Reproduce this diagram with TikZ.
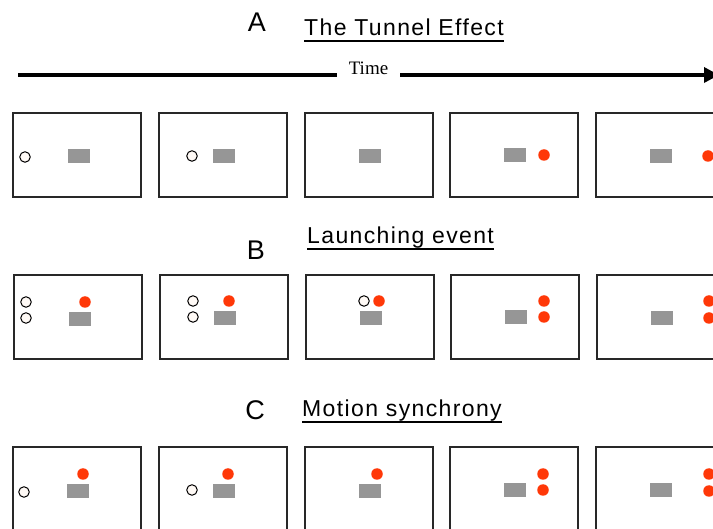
\documentclass[tikz,border=0pt]{standalone}
\usepackage{fontspec}
\setmainfont{Liberation Serif}
\setsansfont{Liberation Sans}
\newfontfamily\headfont[LetterSpace=6]{Liberation Sans}
\usetikzlibrary{arrows.meta}
\definecolor{MotRed}{RGB}{255,56,8}
\definecolor{MotGray}{RGB}{150,150,150}
\definecolor{MotFrame}{RGB}{40,40,40}
\definecolor{MotBall}{RGB}{255,250,246}
\tikzset{
  mot/frame/.style={
    draw=MotFrame,
    line width=1.3pt,
    fill=white,
    minimum width=128pt,
    minimum height=84pt,
    inner sep=0pt
  },
  mot/ball/.style={circle, draw=black, line width=1pt, fill=MotBall, minimum size=10.5pt, inner sep=0pt},
  mot/dot/.style={circle, fill=MotRed, minimum size=11.5pt, inner sep=0pt},
  mot/block/.style={fill=MotGray, minimum width=22pt, minimum height=14pt, inner sep=0pt},
  mot/letter/.style={font=\sffamily\fontsize{27}{27}\selectfont, inner sep=0pt},
  mot/title/.style={font=\headfont\fontsize{23}{23}\selectfont, inner sep=0pt, anchor=base west},
  mot/uline/.style={line width=1.8pt, draw=black},
  mot/time/.style={font=\fontsize{19}{19}\selectfont, inner xsep=12pt, inner ysep=0pt, anchor=base},
  mot/timeline/.style={line width=3.4pt, draw=black}
}

\begin{document}
\begin{tikzpicture}[x=1pt,y=-1pt]
  \useasboundingbox (0,0) rectangle (713,529);

  % headings
  \node[mot/letter] (letA) at (257,22) {A};
  \node[mot/title] (ttlA) at (304,36) {The Tunnel Effect};
  \node[mot/letter] (letB) at (256,250) {B};
  \node[mot/title] (ttlB) at (307,244) {Launching event};
  \node[mot/letter] (letC) at (255,410) {C};
  \node[mot/title] (ttlC) at (302,417) {Motion synchrony};
  \foreach \t in {ttlA,ttlB,ttlC}{
    \draw[mot/uline] ([yshift=-5pt]\t.base west) -- ([yshift=-5pt]\t.base east);
  }

  % time axis
  \coordinate (t0) at (18,75);
  \coordinate (t1) at (719,75);
  \node[mot/time] (time) at (368.5,75) {Time};
  \draw[mot/timeline] (t0) -- (t0 -| time.west);
  \draw[mot/timeline,-{Triangle[length=15pt,width=15pt]}] (time.east |- t1) -- (t1);

  % frames
  \foreach \i/\x in {1/77,2/223,3/369,4/514,5/660}{
    \node[mot/frame] (fA\i) at (\x,155) {};
    \node[mot/frame] (fB\i) at (\x+1,317) {};
    \node[mot/frame] (fC\i) at (\x,489) {};
  }

  % A: the tunnel effect
  \node[mot/ball] (aB1) at (25,157) {};
  \node[mot/block] (aK1) at (79,156) {};
  \node[mot/ball] (aB2) at (192,156) {};
  \node[mot/block] (aK2) at (224,156) {};
  \node[mot/block] (aK3) at (370,156) {};
  \node[mot/block] (aK4) at (515,155) {};
  \node[mot/dot] (aD4) at (544,155) {};
  \node[mot/block] (aK5) at (661,156) {};
  \node[mot/dot] (aD5) at (708,156) {};

  % B: launching event
  \node[mot/ball] (bB1a) at (26,302) {};
  \node[mot/ball] (bB1b) at (26,318) {};
  \node[mot/dot] (bD1) at (85,302) {};
  \node[mot/block] (bK1) at (80,319) {};
  \node[mot/ball] (bB2a) at (193,301) {};
  \node[mot/ball] (bB2b) at (193,317) {};
  \node[mot/dot] (bD2) at (229,301) {};
  \node[mot/block] (bK2) at (225,318) {};
  \node[mot/ball] (bB3) at (364,301) {};
  \node[mot/dot] (bD3) at (379,301) {};
  \node[mot/block] (bK3) at (371,318) {};
  \node[mot/dot] (bD4a) at (544,301) {};
  \node[mot/dot] (bD4b) at (544,317) {};
  \node[mot/block] (bK4) at (516,317) {};
  \node[mot/dot] (bD5a) at (709,301) {};
  \node[mot/dot] (bD5b) at (709,318) {};
  \node[mot/block] (bK5) at (662,318) {};

  % C: motion synchrony
  \node[mot/ball] (cB1) at (24,492) {};
  \node[mot/dot] (cD1) at (83,474) {};
  \node[mot/block] (cK1) at (78,491) {};
  \node[mot/ball] (cB2) at (192,490) {};
  \node[mot/dot] (cD2) at (228,474) {};
  \node[mot/block] (cK2) at (224,491) {};
  \node[mot/dot] (cD3) at (377,474) {};
  \node[mot/block] (cK3) at (370,491) {};
  \node[mot/block] (cK4) at (515,490) {};
  \node[mot/dot] (cD4a) at (543,474) {};
  \node[mot/dot] (cD4b) at (543,490) {};
  \node[mot/block] (cK5) at (661,490) {};
  \node[mot/dot] (cD5a) at (709,474) {};
  \node[mot/dot] (cD5b) at (709,491) {};
\end{tikzpicture}
\end{document}
